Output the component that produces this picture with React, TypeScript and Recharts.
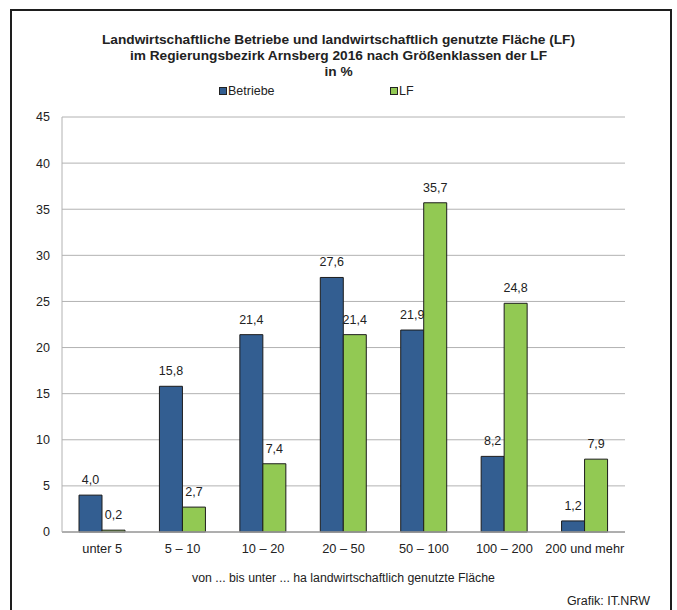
import { BarChart, Bar, XAxis, YAxis, CartesianGrid, LabelList } from "recharts";

const categories = ["unter 5", "5 – 10", "10 – 20", "20 – 50", "50 – 100", "100 – 200", "200 und mehr"];
const betriebe = [4.0, 15.8, 21.4, 27.6, 21.9, 8.2, 1.2];
const lf = [0.2, 2.7, 7.4, 21.4, 35.7, 24.8, 7.9];
const yTicks = [0, 5, 10, 15, 20, 25, 30, 35, 40, 45];

const data = categories.map((name, i) => ({ name, betriebe: betriebe[i], lf: lf[i] }));

const BLUE = "#335e91";
const GREEN = "#92c953";
const FONT = "Arial, 'Liberation Sans', sans-serif";

const fmt = (v: number) => v.toFixed(1).replace(".", ",");

function LegendBox() {
  const items = [
    { label: "Betriebe", color: BLUE },
    { label: "LF", color: GREEN },
  ];
  return (
    <div style={{ position: "absolute", left: 219, top: 84, display: "flex", fontFamily: FONT, fontSize: 12.5, color: "#222" }}>
      {items.map((it) => (
        <div key={it.label} style={{ width: 171, display: "flex", alignItems: "center" }}>
          <span
            style={{
              display: "inline-block",
              width: 6,
              height: 6,
              background: it.color,
              border: "1px solid #222",
              marginRight: 1,
            }}
          />
          {it.label}
        </div>
      ))}
    </div>
  );
}

export default function App() {
  return (
    <div style={{ position: "absolute", left: 0, top: 0, width: 677, height: 610, background: "#fff", overflow: "hidden" }}>
      <div
        style={{
          position: "absolute",
          left: 10,
          top: 9,
          width: 658,
          height: 620,
          border: "2px solid #1e1e1e",
        }}
      />
      <div
        style={{
          position: "absolute",
          left: 0,
          top: 32,
          width: 677,
          textAlign: "center",
          fontFamily: FONT,
          fontWeight: "bold",
          fontSize: 13.7,
          lineHeight: "16px",
          color: "#222",
        }}
      >
        <div>Landwirtschaftliche Betriebe und landwirtschaftlich genutzte Fläche (LF)</div>
        <div>im Regierungsbezirk Arnsberg 2016 nach Größenklassen der LF</div>
        <div>in %</div>
      </div>
      <LegendBox />
      <BarChart
        width={677}
        height={610}
        data={data}
        margin={{ top: 117, right: 52, bottom: 20, left: 0 }}
        barSize={23}
        barGap={0}
        style={{ position: "absolute", left: 0, top: 0 }}
      >
        <CartesianGrid vertical={false} stroke="#b2b2b2" />
        <XAxis
          dataKey="name"
          tickLine={false}
          tickSize={6}
          tickMargin={6}
          stroke="#a0a0a0"
          strokeWidth={1.5}
          height={58}
          tick={{ fill: "#222", fontSize: 12.8, fontFamily: FONT }}
        />
        <YAxis
          domain={[0, 45]}
          ticks={yTicks}
          width={62}
          tickLine={false}
          tickSize={6}
          tickMargin={6}
          stroke="#b2b2b2"
          tick={{ fill: "#222", fontSize: 12.5, fontFamily: FONT }}
        />
        <Bar dataKey="betriebe" name="Betriebe" fill={BLUE} stroke="#1c1c1c" strokeWidth={1} isAnimationActive={false}>
          <LabelList
            dataKey="betriebe"
            position="top"
            offset={11}
            formatter={(v: any) => fmt(Number(v))}
            style={{ fill: "#222", fontSize: 12.5, fontFamily: FONT }}
          />
        </Bar>
        <Bar dataKey="lf" name="LF" fill={GREEN} stroke="#1c1c1c" strokeWidth={1} isAnimationActive={false}>
          <LabelList
            dataKey="lf"
            position="top"
            offset={11}
            formatter={(v: any) => fmt(Number(v))}
            style={{ fill: "#222", fontSize: 12.5, fontFamily: FONT }}
          />
        </Bar>
      </BarChart>
      <div
        style={{
          position: "absolute",
          left: 62,
          top: 571,
          width: 563,
          textAlign: "center",
          fontFamily: FONT,
          fontSize: 12.3,
          color: "#222",
        }}
      >
        von ... bis unter ... ha landwirtschaftlich genutzte Fläche
      </div>
      <div
        style={{
          position: "absolute",
          right: 27,
          top: 594,
          fontFamily: FONT,
          fontSize: 12.5,
          color: "#222",
        }}
      >
        Grafik: IT.NRW
      </div>
    </div>
  );
}
